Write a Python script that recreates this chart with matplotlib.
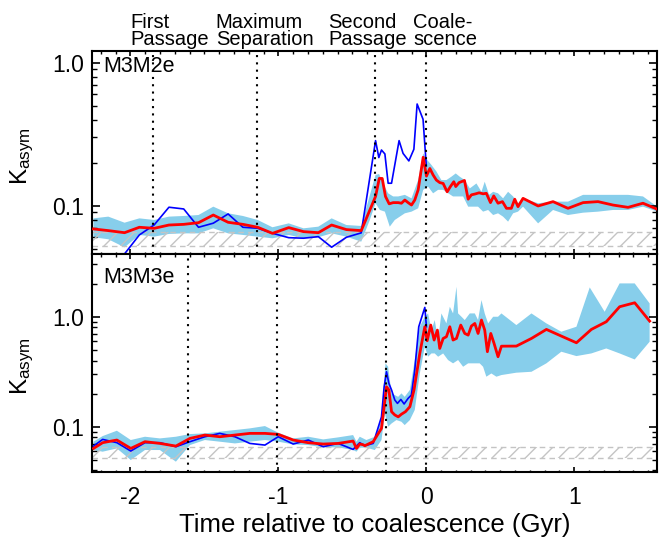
import numpy as np
import matplotlib
matplotlib.use("Agg")
import matplotlib.pyplot as plt
from matplotlib.ticker import MultipleLocator, LogLocator, NullFormatter

plt.rcParams['font.family'] = ['Liberation Sans', 'DejaVu Sans']
plt.rcParams['mathtext.default'] = 'regular'
plt.rcParams['axes.unicode_minus'] = False
plt.rcParams['hatch.color'] = '#c4c4c4'
plt.rcParams['hatch.linewidth'] = 1.0

# ---------------- top panel: M3M2e ----------------
t_red_top = [-2.25, -2.15, -2.04, -1.94, -1.84, -1.74, -1.64, -1.54, -1.44, -1.34,
             -1.24, -1.14, -1.04, -0.93, -0.83, -0.73, -0.64, -0.54, -0.44,
             -0.343, -0.318, -0.298, -0.276, -0.251, -0.224, -0.190, -0.168, -0.145,
             -0.123, -0.100, -0.078, -0.055, -0.021, 0.001, 0.024, 0.046, 0.068,
             0.091, 0.114, 0.141, 0.163, 0.186, 0.199, 0.222, 0.258, 0.283, 0.305,
             0.334, 0.357, 0.384, 0.406, 0.434, 0.456, 0.485, 0.515, 0.542, 0.575,
             0.598, 0.620, 0.654, 0.756, 0.857, 0.958, 1.060, 1.161, 1.262, 1.364,
             1.465, 1.56]
v_red_top = [0.0687, 0.0669, 0.0647, 0.0706, 0.0694, 0.0732, 0.0740, 0.0760, 0.0860, 0.0765,
             0.0740, 0.0706, 0.0640, 0.0702, 0.0658, 0.0647, 0.0732, 0.0680, 0.0669,
             0.116, 0.155, 0.155, 0.116, 0.103, 0.105, 0.105, 0.104, 0.1095,
             0.105, 0.101, 0.1095, 0.129, 0.218, 0.161, 0.182, 0.164, 0.151,
             0.145, 0.143, 0.125, 0.136, 0.147, 0.136, 0.145, 0.150, 0.111, 0.119,
             0.121, 0.123, 0.121, 0.122, 0.105, 0.117, 0.104, 0.1067, 0.0958, 0.0958,
             0.111, 0.0984, 0.1125, 0.0995, 0.1067, 0.0958, 0.105, 0.1067, 0.101, 0.0973,
             0.104, 0.0945]

t_blue_top = [-2.25, -2.15, -2.04, -1.94, -1.84, -1.74, -1.64, -1.54, -1.44, -1.34,
              -1.24, -1.14, -1.04, -0.93, -0.83, -0.73, -0.64, -0.54, -0.44,
              -0.343, -0.321, -0.303, -0.280, -0.258, -0.235, -0.184, -0.157, -0.118,
              -0.084, -0.062, -0.022, 0.0]
v_blue_top = [0.0452, 0.0435, 0.0460, 0.0624, 0.0733, 0.0975, 0.0948, 0.0706, 0.0754, 0.0875,
              0.0706, 0.0695, 0.0641, 0.0597, 0.0592, 0.0607, 0.0512, 0.0601, 0.0645,
              0.285, 0.217, 0.245, 0.230, 0.1435, 0.1435, 0.285, 0.232, 0.2056,
              0.248, 0.514, 0.402, 0.19]

t_hi_top = [-2.25, -2.15, -2.04, -1.94, -1.84, -1.74, -1.64, -1.54, -1.44, -1.34,
            -1.24, -1.14, -1.04, -0.93, -0.83, -0.73, -0.64, -0.54, -0.44,
            -0.343, -0.319, -0.292, -0.258, -0.224, -0.190, -0.145, -0.100, -0.055,
            -0.021, 0.006, 0.035, 0.069, 0.102, 0.136, 0.170, 0.199, 0.226, 0.260,
            0.294, 0.339, 0.373, 0.395, 0.425, 0.452, 0.485, 0.519, 0.553, 0.587,
            0.620, 0.654, 0.756, 0.857, 0.958, 1.060, 1.161, 1.262, 1.364, 1.465, 1.56]
v_hi_top = [0.0815, 0.0838, 0.0760, 0.0815, 0.0794, 0.0838, 0.0847, 0.0860, 0.0984, 0.0884,
            0.0847, 0.0794, 0.0706, 0.0752, 0.0694, 0.0713, 0.0815, 0.0732, 0.0721,
            0.164, 0.1665, 0.143, 0.122, 0.116, 0.116, 0.119, 0.1125, 0.151,
            0.232, 0.209, 0.1925, 0.173, 0.151, 0.151, 0.1595, 0.168, 0.1595, 0.151,
            0.132, 0.143, 0.125, 0.147, 0.119, 0.125, 0.122, 0.1125, 0.125, 0.116,
            0.104, 0.1125, 0.104, 0.1067, 0.1067, 0.119, 0.119, 0.119, 0.119, 0.116, 0.0985]
t_lo_top = [-2.25, -2.15, -2.04, -1.94, -1.84, -1.74, -1.64, -1.54, -1.44, -1.34,
            -1.24, -1.14, -1.04, -0.93, -0.83, -0.73, -0.64, -0.54, -0.44,
            -0.382, -0.343, -0.314, -0.280, -0.247, -0.213, -0.179, -0.145, -0.100,
            -0.055, -0.021, 0.012, 0.046, 0.080, 0.114, 0.148, 0.181, 0.215, 0.249,
            0.283, 0.317, 0.350, 0.384, 0.418, 0.452, 0.485, 0.519, 0.553, 0.587,
            0.620, 0.654, 0.756, 0.857, 0.958, 1.060, 1.161, 1.262, 1.364, 1.465, 1.56]
v_lo_top = [0.0601, 0.0582, 0.0511, 0.0624, 0.0607, 0.0634, 0.0640, 0.0640, 0.0694, 0.0640,
            0.0624, 0.0607, 0.0591, 0.0624, 0.0591, 0.0601, 0.0640, 0.0607, 0.0560,
            0.0794, 0.104, 0.0933, 0.0908, 0.0713, 0.0794, 0.0838, 0.0884, 0.0908,
            0.0958, 0.129, 0.136, 0.122, 0.129, 0.129, 0.122, 0.116, 0.116, 0.116,
            0.0984, 0.0984, 0.0984, 0.0908, 0.0933, 0.0860, 0.0884, 0.0838, 0.0773, 0.0884,
            0.0908, 0.0984, 0.0752, 0.0933, 0.0860, 0.0893, 0.0908, 0.0933, 0.0933, 0.0984, 0.0910]

events_top = [-1.85, -1.145, -0.345, 0.0]

# ---------------- bottom panel: M3M3e ----------------
t_red_bot = [-2.25, -2.188, -2.092, -1.998, -1.902, -1.801, -1.693, -1.598, -1.497, -1.396,
             -1.294, -1.193, -1.091, -1.001, -0.900, -0.798, -0.697, -0.596, -0.495,
             -0.472, -0.450, -0.427, -0.416, -0.359, -0.303, -0.285, -0.269, -0.253,
             -0.235, -0.213, -0.190, -0.168, -0.141, -0.111, -0.083, -0.044, -0.010,
             0.006, 0.030, 0.053, 0.075, 0.091, 0.114, 0.136, 0.159, 0.181, 0.204,
             0.233, 0.260, 0.283, 0.305, 0.328, 0.350, 0.373, 0.395, 0.413, 0.436,
             0.458, 0.485, 0.508, 0.609, 0.711, 0.812, 0.913, 1.015, 1.116, 1.217,
             1.307, 1.409, 1.510]
v_red_bot = [0.0635, 0.0716, 0.0757, 0.0635, 0.0731, 0.0705, 0.0667, 0.0783, 0.0840, 0.0811,
             0.0840, 0.0870, 0.0870, 0.0852, 0.0757, 0.0716, 0.0696, 0.0705, 0.0741,
             0.0635, 0.0696, 0.0686, 0.0672, 0.0731, 0.0966, 0.152, 0.231, 0.216,
             0.137, 0.128, 0.123, 0.130, 0.137, 0.152, 0.216, 0.464, 0.811,
             0.605, 0.840, 0.614, 0.756, 0.515, 0.635, 0.658, 0.811, 0.614, 0.635,
             0.840, 0.705, 0.681, 0.823, 0.869, 0.705, 0.933, 0.756, 0.481, 0.705,
             0.573, 0.433, 0.540, 0.541, 0.635, 0.767, 0.667, 0.580, 0.767, 0.901,
             1.233, 1.340, 0.913]

t_blue_bot = [-2.25, -2.188, -2.092, -1.998, -1.902, -1.801, -1.693, -1.598, -1.497, -1.396,
              -1.294, -1.193, -1.091, -1.001, -0.900, -0.798, -0.697, -0.596, -0.495,
              -0.450, -0.427, -0.416, -0.359, -0.303, -0.285, -0.269, -0.253, -0.235,
              -0.213, -0.195, -0.172, -0.150, -0.123, -0.101, -0.078, -0.051, -0.010, 0.001]
v_blue_bot = [0.0667, 0.0767, 0.0716, 0.0601, 0.0716, 0.0716, 0.0658, 0.0731, 0.0811, 0.0870,
              0.0811, 0.0705, 0.0681, 0.0811, 0.0696, 0.0757, 0.0658, 0.0705, 0.0622,
              0.0716, 0.0686, 0.0672, 0.0705, 0.123, 0.231, 0.316, 0.248, 0.216,
              0.175, 0.163, 0.177, 0.161, 0.181, 0.194, 0.327, 0.811, 1.216, 0.811]

t_hi_bot = [-2.25, -2.188, -2.092, -1.998, -1.902, -1.801, -1.693, -1.598, -1.497, -1.396,
            -1.294, -1.193, -1.091, -1.001, -0.900, -0.798, -0.697, -0.596, -0.495,
            -0.472, -0.450, -0.405, -0.348, -0.303, -0.276, -0.258, -0.235, -0.213,
            -0.190, -0.168, -0.146, -0.111, -0.078, -0.044, -0.010, 0.012, 0.035,
            0.057, 0.080, 0.102, 0.136, 0.159, 0.181, 0.204, 0.215, 0.238, 0.260,
            0.294, 0.328, 0.350, 0.373, 0.395, 0.418, 0.452, 0.485, 0.508, 0.609,
            0.711, 0.812, 0.913, 1.015, 1.105, 1.206, 1.307, 1.409, 1.510]
v_hi_bot = [0.0731, 0.0822, 0.0920, 0.0757, 0.0811, 0.0783, 0.0811, 0.0858, 0.0870, 0.0901,
            0.0933, 0.0966, 0.1014, 0.0882, 0.0783, 0.0811, 0.0767, 0.0800, 0.0840,
            0.0731, 0.0811, 0.0757, 0.0811, 0.115, 0.377, 0.351, 0.201, 0.194,
            0.187, 0.201, 0.187, 0.216, 0.404, 0.811, 1.0, 1.072, 0.756,
            0.933, 0.614, 1.072, 0.870, 1.233, 1.072, 1.874, 1.072, 1.0, 0.933,
            1.072, 1.072, 0.933, 1.418, 1.072, 0.870, 1.0, 1.0, 1.072, 0.840,
            1.072, 0.870, 0.731, 0.811, 1.848, 1.110, 2.01, 2.01, 1.322]
t_lo_bot = [-2.25, -2.188, -2.092, -1.998, -1.902, -1.801, -1.693, -1.598, -1.497, -1.396,
            -1.294, -1.193, -1.091, -1.001, -0.900, -0.798, -0.697, -0.596, -0.495,
            -0.472, -0.450, -0.405, -0.348, -0.303, -0.280, -0.258, -0.235, -0.202,
            -0.168, -0.146, -0.111, -0.078, -0.044, -0.010, 0.012, 0.035, 0.057,
            0.080, 0.114, 0.147, 0.181, 0.215, 0.249, 0.283, 0.328, 0.361, 0.384,
            0.406, 0.440, 0.474, 0.508, 0.609, 0.711, 0.812, 0.913, 1.015, 1.116,
            1.217, 1.307, 1.409, 1.510]
v_lo_bot = [0.0614, 0.0593, 0.0635, 0.0498, 0.0614, 0.0614, 0.0481, 0.0681, 0.0757, 0.0731,
            0.0705, 0.0731, 0.0757, 0.0731, 0.0691, 0.0681, 0.0649, 0.0649, 0.0614,
            0.0593, 0.0645, 0.0645, 0.0614, 0.0757, 0.132, 0.100, 0.107, 0.115,
            0.111, 0.1035, 0.115, 0.142, 0.305, 0.533, 0.433, 0.464, 0.464,
            0.433, 0.464, 0.404, 0.377, 0.404, 0.351, 0.377, 0.377, 0.377, 0.351,
            0.285, 0.305, 0.285, 0.295, 0.310, 0.316, 0.377, 0.481, 0.439, 0.464,
            0.515, 0.464, 0.409, 0.593]

events_bot = [-1.61, -1.012, -0.274, 0.0]

noise_floor = [0.052, 0.065]
event_names = ["First\nPassage", "Maximum\nSeparation", "Second\nPassage", "Coale-\nscence"]

BAND = '#87ceeb'
XLIM = (-2.26, 1.56)

fig = plt.figure(figsize=(6.63, 5.37), dpi=100)
ax1 = fig.add_axes([0.1388, 0.527, 0.8522, 0.378])
ax2 = fig.add_axes([0.1388, 0.1216, 0.8522, 0.4054])

panels = [
    (ax1, "M3M2e", t_red_top, v_red_top, t_blue_top, v_blue_top,
     t_hi_top, v_hi_top, t_lo_top, v_lo_top, events_top, (0.0459, 1.207), 0.872, 0.48),
    (ax2, "M3M3e", t_red_bot, v_red_bot, t_blue_bot, v_blue_bot,
     t_hi_bot, v_hi_bot, t_lo_bot, v_lo_bot, events_bot, (0.039, 3.72), 0.842, 0.483),
]

for (ax, name, tr, vr, tb, vb, th, vh, tl, vl, ev, ylim, ytxt, ylab) in panels:
    ax.set_yscale('log')
    xs = np.concatenate([th, tl[::-1]])
    ys = np.concatenate([vh, vl[::-1]])
    ax.fill(xs, ys, color=BAND, lw=0, zorder=1)
    ax.fill_between(XLIM, noise_floor[0], noise_floor[1], facecolor='none',
                    edgecolor='#c4c4c4', hatch='//', lw=0, zorder=2)
    for yy in noise_floor:
        ax.axhline(yy, color='#c4c4c4', lw=1.0, ls=(0, (4, 3)), zorder=2)
    ax.plot(tb, vb, color='#0000ff', lw=1.2, zorder=3)
    ax.plot(tr, vr, color='#ff0000', lw=2.0, zorder=4)
    for e in ev:
        ax.axvline(e, color='black', lw=1.5, ls=(0, (1, 2.5)), zorder=5)
    ax.set_xlim(*XLIM)
    ax.set_ylim(*ylim)
    ax.set_yticks([0.1, 1.0])
    ax.set_yticklabels(['0.1', '1.0'])
    ax.yaxis.set_minor_locator(LogLocator(base=10, subs=np.arange(2, 10)))
    ax.yaxis.set_minor_formatter(NullFormatter())
    ax.xaxis.set_major_locator(MultipleLocator(1))
    ax.xaxis.set_minor_locator(MultipleLocator(0.1))
    ax.tick_params(axis='y', which='major', direction='in', length=6, width=1.2,
                   right=True, labelsize=16.5, pad=6)
    ax.tick_params(axis='y', which='minor', direction='in', length=3.5, width=1.0, right=True)
    ax.tick_params(axis='x', which='major', direction='in', length=3.5, width=1.2,
                   top=True, labelsize=16.5, pad=10)
    ax.tick_params(axis='x', which='minor', direction='in', length=1.8, width=1.0, top=True)
    for s in ax.spines.values():
        s.set_linewidth(1.5)
    ax.text(0.019, ytxt, name, transform=ax.transAxes, fontsize=15.5, ha='left', va='bottom')
    ax.set_ylabel('K$_{asym}$', fontsize=17.5, va='center')
    ax.yaxis.set_label_coords(-0.123, ylab)

ax1.tick_params(axis='x', labelbottom=False)
ax2.set_xlabel('Time relative to coalescence (Gyr)', fontsize=18.5, labelpad=3)

for name, xf in zip(event_names, [0.067, 0.219, 0.418, 0.568]):
    ax1.text(xf, 1.008, name, transform=ax1.transAxes, fontsize=14.5, ha='left',
             va='bottom', linespacing=0.9)

fig.savefig('out.png', dpi=100)
